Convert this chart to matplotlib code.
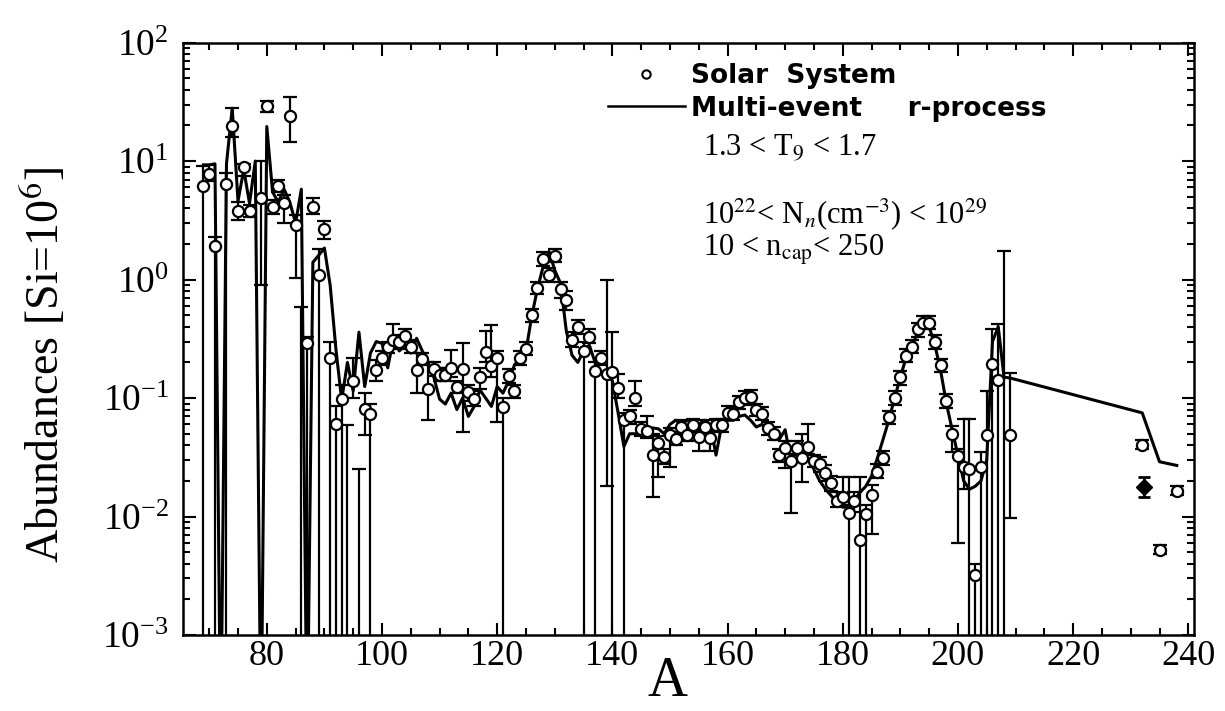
import numpy as np
import matplotlib
matplotlib.use("Agg")
import matplotlib.pyplot as plt
from matplotlib.lines import Line2D
from matplotlib.ticker import LogLocator, MultipleLocator, LogFormatterMathtext

plt.rcParams['font.family'] = ['Liberation Serif', 'DejaVu Serif']
plt.rcParams['mathtext.fontset'] = 'stix'

# Solar-system r-process abundances: mass number, value, lower / upper error bound
# (lower bound 0 means the bar runs down to the axis; 5e-4 marks a point below the frame)
solar_A = [69, 70, 71, 73, 74, 75, 76, 77, 79, 80, 81, 82, 83, 84, 85, 86, 87, 88, 89, 90,
           91, 92, 93, 94, 95, 96, 97, 98, 99, 100, 101, 102, 103, 104, 105, 106, 107, 108, 109, 110,
           111, 112, 113, 114, 115, 116, 117, 118, 119, 120, 121, 122, 123, 124, 125, 126, 127, 128, 129, 130,
           131, 132, 133, 134, 135, 136, 137, 138, 139, 140, 141, 142, 143, 144, 145, 146, 147, 148, 149, 150,
           151, 152, 153, 154, 155, 156, 157, 158, 159, 160, 161, 162, 163, 164, 165, 166, 167, 168, 169, 170,
           171, 172, 173, 174, 175, 176, 177, 178, 179, 180, 181, 182, 183, 184, 185, 186, 187, 188, 189, 190,
           191, 192, 193, 194, 195, 196, 197, 198, 199, 200, 201, 202, 203, 204, 205, 206, 207, 208, 209,
           232, 235, 238]
solar_val = [6.2, 7.8, 1.93, 6.4, 19.9, 3.8, 9.0, 3.8, 4.9, 29, 4.1, 6.2, 4.45, 24, 2.9, 5e-4, 0.29, 4.1, 1.09, 2.66,
             0.22, 0.061, 0.098, 5e-4, 0.14, 5e-4, 0.081, 0.073, 0.173, 0.22, 0.27, 0.31, 0.30, 0.335, 0.27, 0.173, 0.214, 0.119, 0.177, 0.157,
             0.157, 0.179, 0.125, 0.177, 0.112, 0.098, 0.152, 0.247, 0.187, 0.217, 0.084, 0.154, 0.114, 0.22, 0.26, 0.50, 0.85, 1.48, 1.10, 1.59,
             0.83, 0.67, 0.31, 0.40, 0.25, 0.33, 0.17, 0.22, 0.16, 0.165, 0.121, 0.065, 0.07, 0.10, 0.055, 0.053, 0.033, 0.042, 0.032, 0.049,
             0.045, 0.057, 0.049, 0.059, 0.047, 0.057, 0.046, 0.059, 0.059, 0.075, 0.074, 0.092, 0.10, 0.103, 0.08, 0.074, 0.056, 0.050, 0.033, 0.038,
             0.0294, 0.038, 0.031, 0.039, 0.0294, 0.028, 0.0235, 0.0191, 0.0135, 0.0147, 0.0107, 0.0134, 0.0063, 0.0105, 0.0152, 0.0239, 0.031, 0.069, 0.10, 0.15,
             0.227, 0.27, 0.38, 0.43, 0.43, 0.30, 0.19, 0.095, 0.050, 0.0325, 0.0264, 0.025, 0.0032, 0.0264, 0.049, 0.195, 0.141, 5e-4, 0.049,
             0.040, 0.0052, 0.0165]
solar_lo = [0, 6.8, 0, 0, 16, 3.2, 7.5, 3.4, 0.9, 26, 3.6, 5.5, 3.0, 14.5, 1.03, 0, 0, 3.6, 0, 2.2,
            0, 0, 0, 0, 0.10, 0, 0.049, 0, 0.14, 0.19, 0.24, 0.27, 0.26, 0.30, 0.24, 0.11, 0.19, 0.065, 0.155, 0.14,
            0.14, 0.15, 0.11, 0.052, 0.095, 0.085, 0.12, 0.20, 0.15, 0.063, 0, 0.135, 0.10, 0.19, 0.23, 0.44, 0.75, 1.3, 0.95, 1.4,
            0.70, 0.55, 0.27, 0.35, 0, 0.29, 0, 0.19, 0.018, 0, 0.10, 0, 0.06, 0.085, 0.048, 0.046, 0.0147, 0.0217, 0.028, 0.0264,
            0.040, 0.050, 0.043, 0.052, 0.036, 0.050, 0.036, 0.052, 0.052, 0.066, 0.065, 0.081, 0.088, 0.09, 0.07, 0.065, 0.049, 0.044, 0.029, 0.0257,
            0.0107, 0.033, 0.0196, 0.034, 0.026, 0.024, 0.020, 0.0165, 0.012, 0.0125, 0, 0.011, 0, 0, 0.0071, 0.021, 0.027, 0.060, 0.088, 0.13,
            0.20, 0.24, 0.33, 0.38, 0.38, 0.26, 0.165, 0.083, 0.035, 0.006, 0.017, 0, 0, 0, 0, 0, 0, 0, 0.0097,
            0.037, 0.0048, 0.0152]
solar_hi = [9.1, 9.3, 2.3, 8.0, 28, 4.5, 9.5, 4.3, 10, 32, 4.7, 7.0, 5.2, 35, 3.5, 0.59, 0.33, 4.9, 1.8, 3.1,
            0.30, 0.085, 0.13, 0.059, 0.216, 0.025, 0.11, 0.09, 0.21, 0.25, 0.30, 0.42, 0.34, 0.38, 0.31, 0.24, 0.24, 0.20, 0.20, 0.18,
            0.18, 0.256, 0.14, 0.29, 0.13, 0.115, 0.18, 0.37, 0.41, 0.25, 0.10, 0.175, 0.13, 0.25, 0.30, 0.56, 0.95, 1.7, 1.25, 1.8,
            0.95, 0.80, 0.36, 0.46, 0.30, 0.38, 0.20, 0.25, 1.0, 0.36, 0.16, 0.075, 0.08, 0.14, 0.063, 0.07, 0.05, 0.048, 0.037, 0.056,
            0.052, 0.065, 0.056, 0.067, 0.054, 0.065, 0.053, 0.067, 0.067, 0.085, 0.084, 0.104, 0.114, 0.117, 0.09, 0.084, 0.063, 0.057, 0.037, 0.043,
            0.034, 0.043, 0.05, 0.06, 0.033, 0.032, 0.027, 0.022, 0.016, 0.0214, 0.0214, 0.016, 0.0214, 0.0125, 0.0185, 0.028, 0.036, 0.078, 0.114, 0.17,
            0.26, 0.31, 0.43, 0.49, 0.49, 0.34, 0.215, 0.108, 0.058, 0.037, 0.066, 0.066, 0.004, 0.035, 0.114, 0.38, 0.42, 1.76, 0.162,
            0.044, 0.0057, 0.018]

# single filled point near A = 232
special_A = [232.3]
special_val = [0.0178]
special_lo = [0.0145]
special_hi = [0.0215]

# multi-event r-process calculation (1e-4 = dip below the frame)
model_A = [69, 70, 71, 72, 73, 74, 75, 76, 77, 78, 79, 80, 81, 82, 83, 84, 85, 86, 87, 88, 89, 90,
           91, 92, 93, 94, 95, 96, 97, 98, 99, 100, 101, 102, 103, 104, 105, 106, 107, 108, 109, 110,
           111, 112, 113, 114, 115, 116, 117, 118, 119, 120, 121, 122, 123, 124, 125, 126, 127, 128, 129, 130,
           131, 132, 133, 134, 135, 136, 137, 138, 139, 140, 141, 142, 143, 144, 145, 146, 147, 148, 149, 150,
           151, 152, 153, 154, 155, 156, 157, 158, 159, 160, 161, 162, 163, 164, 165, 166, 167, 168, 169, 170,
           171, 172, 173, 174, 175, 176, 177, 178, 179, 180, 181, 182, 183, 184, 185, 186, 187, 188, 189, 190,
           191, 192, 193, 194, 195, 196, 197, 198, 199, 200, 201, 202, 203, 204, 205, 206, 207, 208, 209,
           232, 235, 238]
model_val = [9.3, 9.3, 9.5, 1e-4, 9.5, 28, 4.6, 8.5, 4.4, 10, 1e-4, 19.6, 5.5, 4.5, 5.8, 4.5, 3.0, 5.8, 1e-4, 1.4, 1.6, 1.85,
             0.9, 0.26, 0.096, 0.2, 0.115, 0.36, 0.125, 0.24, 0.30, 0.29, 0.18, 0.32, 0.25, 0.28, 0.24, 0.32, 0.25, 0.20, 0.15, 0.098,
             0.089, 0.11, 0.08, 0.10, 0.07, 0.085, 0.117, 0.10, 0.085, 0.125, 0.11, 0.14, 0.19, 0.22, 0.25, 0.49, 0.84, 1.3, 1.73, 1.2,
             0.93, 0.37, 0.23, 0.20, 0.25, 0.28, 0.20, 0.16, 0.16, 0.14, 0.075, 0.039, 0.05, 0.05, 0.05, 0.05, 0.056, 0.055, 0.05, 0.06,
             0.065, 0.06, 0.065, 0.065, 0.06, 0.065, 0.06, 0.033, 0.06, 0.065, 0.065, 0.07, 0.072, 0.065, 0.057, 0.06, 0.05, 0.05, 0.045, 0.054,
             0.03, 0.035, 0.03, 0.031, 0.025, 0.02, 0.017, 0.015, 0.013, 0.012, 0.012, 0.0137, 0.016, 0.018, 0.022, 0.031, 0.045, 0.065, 0.10, 0.15,
             0.22, 0.27, 0.36, 0.42, 0.40, 0.28, 0.17, 0.09, 0.054, 0.033, 0.02, 0.017, 0.018, 0.02, 0.03, 0.30, 0.40, 0.15, 0.148,
             0.075, 0.029, 0.027]

W, H = 1225, 711
fig = plt.figure(figsize=(W / 100, H / 100), dpi=100)
ax = fig.add_axes([182.7 / W, 1 - 635 / H, (1193.5 - 182.7) / W, (635 - 42.7) / H])

A = np.array(solar_A, dtype=float)
val = np.array(solar_val)
lo = np.maximum(np.array(solar_lo), 1e-6)
hi = np.array(solar_hi)

ax.plot(model_A, model_val, color='black', lw=2.2, zorder=2)
ax.errorbar(A, val, yerr=[val - lo, hi - val], fmt='o', ms=8, mfc='white', mec='black',
            mew=1.6, ecolor='black', elinewidth=1.6, capsize=5, capthick=1.6, zorder=3)
sp_val = np.array(special_val)
ax.errorbar(special_A, sp_val, yerr=[sp_val - np.array(special_lo), np.array(special_hi) - sp_val],
            fmt='D', ms=8, mfc='black', mec='black', ecolor='black', elinewidth=2, capsize=4, capthick=2, zorder=3)

ax.set_yscale('log')
ax.set_xlim(65.4, 240.9)
ax.set_ylim(1e-3, 1e2)
ax.xaxis.set_major_locator(MultipleLocator(20))
ax.xaxis.set_minor_locator(MultipleLocator(5))
ax.yaxis.set_major_locator(LogLocator(base=10))
ax.yaxis.set_minor_locator(LogLocator(base=10, subs=np.arange(2, 10)))
ax.yaxis.set_major_formatter(LogFormatterMathtext())
ax.tick_params(which='both', direction='in', top=True, right=True, width=1.5, labelsize=26)
ax.tick_params(which='major', length=9)
ax.tick_params(which='minor', length=5)
ax.tick_params(axis='y', which='major', pad=10, labelsize=27)
for s in ax.spines.values():
    s.set_linewidth(1.8)

fig.text(45 / W, 1 - 365 / H, r"Abundances [Si=10$^6$]", rotation=90, fontsize=33,
         ha='center', va='center')
fig.text(668 / W, 1 - 682 / H, "A", fontsize=40, ha='center', va='center')

handles = [Line2D([], [], ls='none', marker='o', ms=6, mfc='white', mec='black', mew=1.5),
           Line2D([], [], color='black', lw=1.8)]
ax.legend(handles, ["Solar  System", "Multi-event     r-process"],
          loc='upper left', bbox_to_anchor=(608 / W, 1 - 63 / H), bbox_transform=fig.transFigure,
          frameon=False, borderpad=0, borderaxespad=0, handlelength=2.9, handletextpad=0.25,
          labelspacing=0.25, prop={'family': 'DejaVu Sans', 'weight': 'bold', 'size': 19})

fig.text(703 / W, 1 - 148 / H, r"1.3 < T$_9$ < 1.7", fontsize=22, va='center')
fig.text(703 / W, 1 - 214 / H, r"10$^{22}$< N$_n$(cm$^{-3}$) < 10$^{29}$", fontsize=22, va='center')
fig.text(703 / W, 1 - 250 / H, r"10 < n$_{\rm cap}$< 250", fontsize=22, va='center')

fig.savefig("out.png", dpi=100)
